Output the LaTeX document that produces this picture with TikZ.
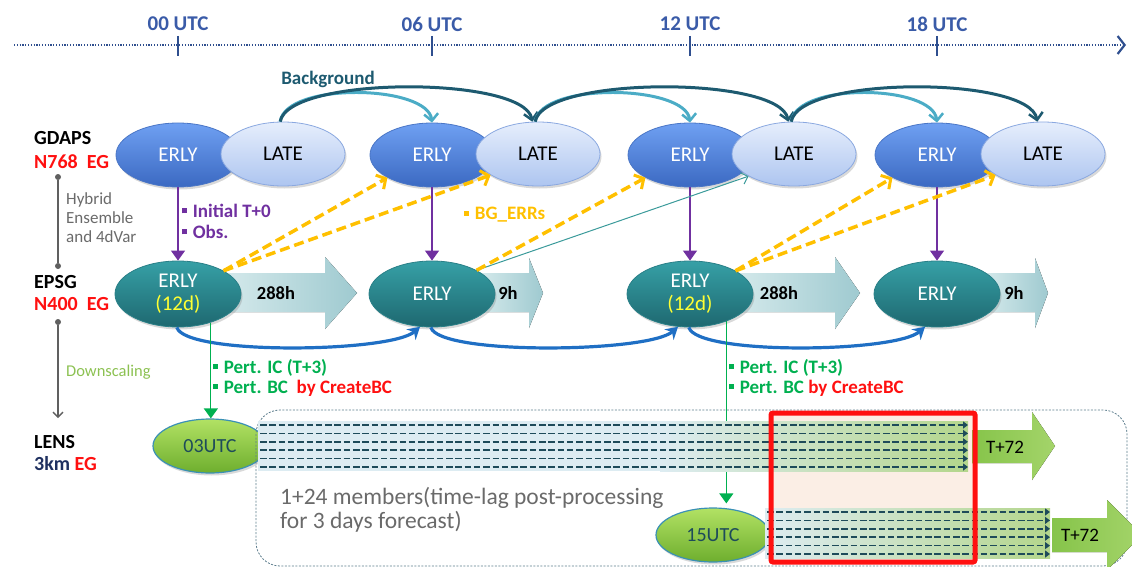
\documentclass[tikz,border=0pt]{standalone}
\usepackage{fontspec}
\setmainfont{Carlito}
\usetikzlibrary{arrows.meta,shapes.geometric,shadows,calc}
\definecolor{utcblue}{HTML}{3A5BA8}
\definecolor{axisblue}{HTML}{2F4F8F}
\definecolor{gEtop}{HTML}{6FA0F2}
\definecolor{gEbot}{HTML}{3B69C2}
\definecolor{gEdraw}{HTML}{4A76C6}
\definecolor{lTtop}{HTML}{E6EEFC}
\definecolor{lTbot}{HTML}{ADC5F0}
\definecolor{lTdraw}{HTML}{8AA8E0}
\definecolor{pEtop}{HTML}{36A0A6}
\definecolor{pEbot}{HTML}{1E6870}
\definecolor{pEdraw}{HTML}{2A8088}
\definecolor{gNtop}{HTML}{B2E264}
\definecolor{gNbot}{HTML}{6EAE2E}
\definecolor{gNdraw}{HTML}{3A90B5}
\definecolor{bgdark}{HTML}{1D5A70}
\definecolor{bglight}{HTML}{4BACC6}
\definecolor{purp}{HTML}{7030A0}
\definecolor{yel}{HTML}{FFC000}
\definecolor{grn}{HTML}{00B050}
\definecolor{curveblue}{HTML}{1F6FC4}
\definecolor{thinteal}{HTML}{3A9A9A}
\definecolor{darkteal}{HTML}{1E4B5A}
\definecolor{lbl}{HTML}{FF1010}
\definecolor{graytxt}{HTML}{6A6A6A}
\definecolor{dsc}{HTML}{8CC152}
\definecolor{twelve}{HTML}{FFFF33}
\definecolor{navy}{HTML}{1F3060}
\definecolor{blkL}{HTML}{D4E9EB}
\definecolor{blkR}{HTML}{9FCAD0}
\definecolor{tgL}{HTML}{86C44A}
\definecolor{tgR}{HTML}{A4D46A}
\definecolor{bandL}{HTML}{DDECF2}
\definecolor{bandR}{HTML}{B4D68C}
\definecolor{peach}{HTML}{FBEEE5}
\definecolor{boxline}{HTML}{5C7C8C}
\definecolor{leftgray}{HTML}{606060}
\newcommand\fsz[1]{\fontsize{#1}{#1}\selectfont}
\newcommand\sqb{\rule[0.22em]{0.26em}{0.26em}\hspace{0.3em}}
\begin{document}
\begin{tikzpicture}[x=1pt,y=-1pt,
  gE/.style={ellipse,minimum width=124,minimum height=64,inner sep=0,draw=gEdraw,line width=0.8,top color=gEtop,bottom color=gEbot,text=white,font=\fsz{21},drop shadow={opacity=0.3,shadow xshift=1.5pt,shadow yshift=-2.5pt}},
  lT/.style={gE,draw=lTdraw,top color=lTtop,bottom color=lTbot,text=black},
  pE/.style={gE,minimum width=126,minimum height=66,draw=pEdraw,top color=pEtop,bottom color=pEbot,align=center},
  gN/.style={gE,minimum width=114,minimum height=54,draw=gNdraw,line width=1.2,top color=gNtop,bottom color=gNbot,text=darkteal,font=\fsz{20}},
  utc/.style={font=\bfseries\fsz{21},text=utcblue},
  rowlbl/.style={anchor=west,inner sep=0,font=\bfseries\fsz{20},align=left},
  note/.style={anchor=west,inner sep=0,font=\bfseries\fsz{19},align=left},
  hrs/.style={inner sep=0,font=\bfseries\fsz{18.5}},
  dotn/.style={circle,fill=leftgray,inner sep=0,minimum size=6},
  axis/.style={axisblue,line width=1.6,dash pattern=on 1.2pt off 1.6pt,-{Straight Barb[length=7pt,width=18pt,line width=2.2pt]}},
  tick/.style={axisblue,line width=2},
  bgd/.style={bgdark,line width=3,-{Straight Barb[length=7pt,width=14pt,line width=2.5pt]}},
  bgl/.style={bglight,line width=3,-{Straight Barb[length=7pt,width=14pt,line width=2.5pt]}},
  purar/.style={purp,line width=1.2,-{Triangle[length=10pt,width=14pt]}},
  grar/.style={grn,line width=1.2,-{Triangle[length=10pt,width=14pt]}},
  ydash/.style={yel,line width=3.5,dash pattern=on 10pt off 5pt,-{Straight Barb[length=7pt,width=16pt,line width=3pt]}},
  thin/.style={thinteal,line width=1,-{Straight Barb[length=6pt,width=12pt]}},
  bcurve/.style={curveblue,line width=3.2,-{Stealth[length=12pt,width=14pt,inset=4pt]}},
  bandln/.style={darkteal,line width=1.7,dash pattern=on 6.5pt off 2.8pt,-{Triangle[length=5pt,width=7pt]}},
  blk/.style={left color=blkL,right color=blkR},
  tarr/.style={left color=tgL,right color=tgR},
  bandfade/.style={left color=bandL,right color=bandR}
]
\useasboundingbox (0,0) rectangle (1132,567);
\clip (0,0) rectangle (1132,567);

% ---------------- timeline
\coordinate (tlA) at (14,45);
\coordinate (tlB) at (1126,45);
\draw[axis] (tlA) -- (tlB);
\foreach \xx/\nm in {178/00,432/06,690/12,937/18}{
  \coordinate (tk\nm a) at (\xx,36);
  \coordinate (tk\nm b) at (\xx,56);
  \draw[tick] (tk\nm a) -- (tk\nm b);
  \node[utc] (utc\nm) at (\xx,24) {\nm\ UTC};
}

% ---------------- left labels
\node[rowlbl] (gdaps) at (34,138) {GDAPS};
\node[rowlbl,text=lbl] (gdapsres) at (34,162) {N768~~EG};
\node[rowlbl] (epsg) at (34,282) {EPSG};
\node[rowlbl,text=lbl] (epsgres) at (34,304) {N400~~EG};
\node[rowlbl] (lens) at (34,442) {LENS};
\node[rowlbl,text=navy] (lensres) at (34,464) {3km \textcolor{lbl}{EG}};
\node[dotn] (d1) at (58,177) {};
\node[dotn] (d2) at (58,266) {};
\node[dotn] (d3) at (58,322) {};
\coordinate (d4) at (58,418);
\draw[leftgray,line width=1.3] (d1) -- (d2);
\draw[leftgray,line width=1.3,-{Straight Barb[length=5pt,width=10pt]}] (d3) -- (d4);
\node[anchor=west,inner sep=0,font=\fsz{17},text=graytxt,align=left] (hyb) at (66,218)
  {Hybrid\\[2pt]Ensemble\\[2pt]and 4dVar};
\node[anchor=west,inner sep=0,font=\fsz{16.5},text=dsc] (dsl) at (66,372) {Downscaling};

% ---------------- LENS area background
\fill[peach] (771,413) rectangle (975,562);
\node[gN] (T1) at (210,446) {03UTC};
\node[gN] (T2) at (713,535) {15UTC};
\draw[boxline,line width=0.8,dash pattern=on 2pt off 1.5pt,rounded corners=24] (256,410) rectangle (1127,566);

% ---------------- EPSG block arrows
\fill[blk] (225,273) -- (325,273) -- (325,257) -- (357,293) -- (325,329) -- (325,312) -- (225,312) -- cycle;
\fill[blk] (480,273) -- (529,273) -- (529,258) -- (543,293) -- (529,328) -- (529,312) -- (480,312) -- cycle;
\fill[blk] (735,273) -- (835,273) -- (835,257) -- (860,293) -- (835,329) -- (835,312) -- (735,312) -- cycle;
\fill[blk] (985,273) -- (1035,273) -- (1035,258) -- (1048,293) -- (1035,328) -- (1035,312) -- (985,312) -- cycle;
\node[hrs] (h1) at (276,293) {288h};
\node[hrs] (h2) at (508,293) {9h};
\node[hrs] (h3) at (779,293) {288h};
\node[hrs] (h4) at (1014,293) {9h};

% ---------------- GDAPS row
\node[gE] (E1) at (178,155) {ERLY};
\node[lT] (L1) at (283,154) {LATE};
\node[gE] (E2) at (432,155) {ERLY};
\node[lT] (L2) at (538,154) {LATE};
\node[gE] (E3) at (690,155) {ERLY};
\node[lT] (L3) at (794,154) {LATE};
\node[gE] (E4) at (937,155) {ERLY};
\node[lT] (L4) at (1043,154) {LATE};

% ---------------- EPSG row
\node[pE] (P1) at (178,294) {ERLY\\[2pt]\textcolor{twelve}{(12d)}};
\node[pE] (P2) at (432,294) {ERLY};
\node[pE] (P3) at (690,294) {ERLY\\[2pt]\textcolor{twelve}{(12d)}};
\node[pE] (P4) at (937,294) {ERLY};

% ---------------- background arcs
\node[inner sep=0,font=\bfseries\fsz{19},text=bgdark] (bglab) at (328,79) {Background};
\draw[bgl] (L1.95) .. controls +(6,-40) and +(-4,-38) .. (E2.north);
\draw[bgd] (L1.95) .. controls +(8,-46) and +(-8,-46) .. (L2.100);
\draw[bgl] (L2.95) .. controls +(6,-40) and +(-4,-38) .. (E3.north);
\draw[bgd] (L2.95) .. controls +(8,-46) and +(-8,-46) .. (L3.100);
\draw[bgl] (L3.95) .. controls +(6,-40) and +(-4,-38) .. (E4.north);
\draw[bgd] (L3.95) .. controls +(8,-46) and +(-8,-46) .. (L4.100);

% ---------------- vertical purple arrows
\draw[purar] (E1) -- (P1);
\draw[purar] (E2) -- (P2);
\draw[purar] (E3) -- (P3);
\draw[purar] (E4) -- (P4);
\node[note,text=purp] (ini) at (182,211) {\sqb Initial T+0};
\node[note,text=purp] (obs) at (182,232) {\sqb Obs.};

% ---------------- BG_ERRs arrows
\draw[ydash] (P1.27) -- (E2.207);
\draw[ydash] (P1.27) -- (L2.204);
\draw[thin] (P2.28) -- (L3.206);
\draw[ydash] (P2.28) -- (E3.207);
\draw[ydash] (P3.27) -- (E4.207);
\draw[ydash] (P3.27) -- (L4.204);
\node[note,text=yel] (bgerr) at (464,215) {\sqb BG\_ERRs};

% ---------------- blue cycling curves
\draw[bcurve] (P1.268) .. controls +(8,28) and +(-30,26) .. (P2.250);
\draw[bcurve] (P2.268) .. controls +(8,28) and +(-30,26) .. (P3.250);
\draw[bcurve] (P3.268) .. controls +(8,28) and +(-30,26) .. (P4.250);

% ---------------- green downscaling arrows
\coordinate (g1) at (P1.-41);
\coordinate (g2) at (P3.-37);
\draw[grar] (g1) -- (g1 |- T1.north);
\draw[grar] (g2) -- ($(g2 |- T2.north)+(0,-4)$);
\node[note,text=grn] (pic1) at (213,368) {\sqb Pert. IC (T+3)};
\node[note,text=grn] (pbc1) at (213,388) {\sqb Pert. BC~~\textcolor{lbl}{by CreateBC}};
\node[note,text=grn] (pic2) at (729,368) {\sqb Pert. IC (T+3)};
\node[note,text=grn] (pbc2) at (729,388) {\sqb Pert. BC \textcolor{lbl}{by CreateBC}};

% ---------------- LENS members bands
\fill[bandL] (258,421) rectangle (661,471);
\fill[bandfade] (660,421) rectangle (968,471);
\foreach \yy in {425,433.4,441.8,450.2,458.6,467}{
  \draw[bandln] (260,\yy) -- (968,\yy);
}
\fill[tarr] (972,430) -- (1032,430) -- (1032,412) -- (1055,446) -- (1032,480) -- (1032,463) -- (972,463) -- cycle;
\node[inner sep=0,font=\fsz{19}] (t72a) at (1005,447) {T+72};

\fill[bandfade] (765,508) rectangle (1050,558);
\foreach \yy in {512,520.4,528.8,537.2,545.6,554}{
  \draw[bandln] (767,\yy) -- (1050,\yy);
}
\fill[tarr] (1052,518) -- (1107,518) -- (1107,500) -- (1142,535) -- (1107,570) -- (1107,552) -- (1052,552) -- cycle;
\node[inner sep=0,font=\fsz{19}] (t72b) at (1080,535) {T+72};

\draw[lbl,line width=5,rounded corners=2] (771,413) rectangle (975,562);

\node[anchor=west,inner sep=0,font=\fsz{23.5},text=graytxt,align=left] (mem) at (280,510)
  {1+24 members(time-lag post-processing\\[0pt]for 3 days forecast)};
\end{tikzpicture}
\end{document}
